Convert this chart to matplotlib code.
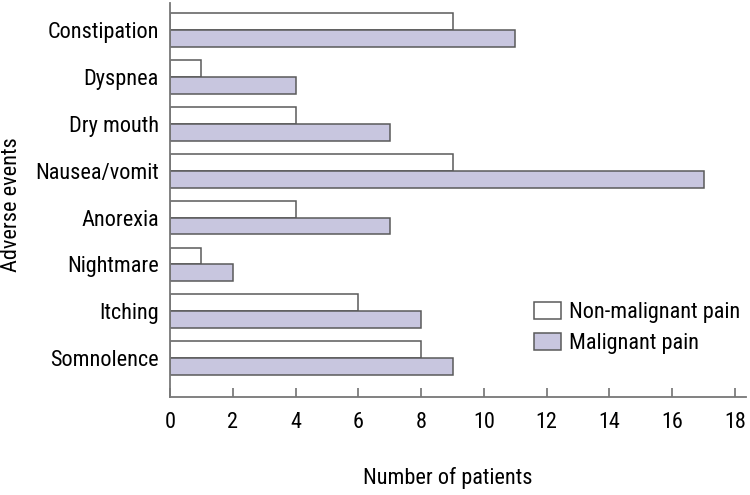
import numpy as np
import matplotlib
matplotlib.use("Agg")
import matplotlib.pyplot as plt
from matplotlib import font_manager

# Dane
events = ["Constipation", "Dyspnea", "Dry mouth", "Nausea/vomit",
          "Anorexia", "Nightmare", "Itching", "Somnolence"]
non_malignant = [9, 1, 4, 9, 4, 1, 6, 8]
malignant = [11, 4, 7, 17, 7, 2, 8, 9]
xticks = [0, 2, 4, 6, 8, 10, 12, 14, 16, 18]

# Wąska czcionka, jeśli jest; inaczej Liberation Sans w mniejszym rozmiarze
family, size = "Liberation Sans", 14.5
for cand in ["Liberation Sans Narrow", "Roboto Condensed"]:
    try:
        font_manager.findfont(cand, fallback_to_default=False)
        family, size = cand, 16
        break
    except ValueError:
        pass
plt.rcParams["font.family"] = [family, "DejaVu Sans"]
plt.rcParams["font.size"] = size

W, H = 750, 495
fig = plt.figure(figsize=(W / 100, H / 100), dpi=100)
ax = fig.add_axes([170 / W, 1 - 397 / H, 576 / W, 394 / H])

edge = "#5a5a5a"
y = np.arange(len(events))[::-1]
h = 0.36
ax.barh(y + h / 2, non_malignant, height=h, color="white", edgecolor=edge,
        linewidth=1.1, label="Non-malignant pain")
ax.barh(y - h / 2, malignant, height=h, color="#c8c6df", edgecolor=edge,
        linewidth=1.1, label="Malignant pain")

ax.set_xlim(0, 18.35)
ax.set_ylim(-0.83, 7.58)
ax.set_xticks(xticks)
ax.set_yticks(y)
ax.set_yticklabels(events)

for s in ["top", "right"]:
    ax.spines[s].set_visible(False)
for s in ["left", "bottom"]:
    ax.spines[s].set_color("#777777")
    ax.spines[s].set_linewidth(1.3)

ax.tick_params(axis="x", direction="in", length=6.5, width=1.1, color="#666666", pad=11)
ax.tick_params(axis="y", length=0, pad=8)

ax.legend(loc="upper left", bbox_to_anchor=(534 / W, 1 - 302 / H),
          bbox_transform=fig.transFigure, frameon=False, borderpad=0,
          borderaxespad=0, handlelength=1.2, handleheight=0.8,
          handletextpad=0.36, labelspacing=0.45)

fig.text(448 / W, 1 - 478 / H, "Number of patients", ha="center", va="center")
fig.text(12 / W, 1 - 205 / H, "Adverse events", ha="center", va="center", rotation=90)

fig.savefig("out.png", dpi=100)
